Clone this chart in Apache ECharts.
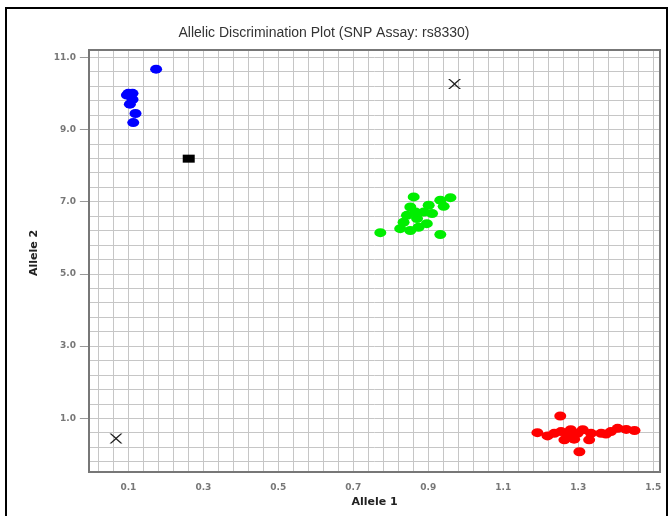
<!DOCTYPE html>
<html>
<head>
<meta charset="utf-8">
<script src="https://cdn.jsdelivr.net/npm/echarts@6/dist/echarts.min.js"></script>
<style>html,body{margin:0;padding:0;background:#fff}#c{width:670px;height:516px}</style>
</head>
<body>
<div id="c"></div>
<script>
// Tick labels
var xLabelValues = [0.1, 0.3, 0.5, 0.7, 0.9, 1.1, 1.3, 1.5];
var yLabelValues = [1.0, 3.0, 5.0, 7.0, 9.0, 11.0];

// Allele 2 homozygotes (blue)
var blueX = [0.174, 0.100, 0.096, 0.111, 0.111, 0.104, 0.119, 0.113];
var blueY = [10.67, 10.00, 9.95, 10.00, 9.83, 9.70, 9.44, 9.19];

// Heterozygotes (green)
var greenX = [0.772, 0.932, 0.861, 0.959, 0.932, 0.941, 0.901, 0.888, 0.852, 0.843, 0.834, 0.825, 0.852, 0.874, 0.896, 0.870, 0.866, 0.910];
var greenY = [6.14, 6.09, 7.13, 7.11, 7.04, 6.87, 6.90, 6.71, 6.85, 6.62, 6.43, 6.25, 6.20, 6.29, 6.39, 6.53, 6.71, 6.67];

// Allele 1 homozygotes (red)
var redX = [1.252, 1.303, 1.191, 1.218, 1.254, 1.272, 1.289, 1.298, 1.329, 1.334, 1.361, 1.387, 1.405, 1.428, 1.450, 1.280, 1.312, 1.236, 1.263, 1.374];
var redY = [1.06, 0.07, 0.60, 0.51, 0.63, 0.49, 0.42, 0.58, 0.40, 0.58, 0.58, 0.63, 0.72, 0.69, 0.66, 0.68, 0.68, 0.58, 0.40, 0.56];

// No template control (black square)
var ntcX = [0.261];
var ntcY = [8.19];

// Undetermined (X)
var undX = [0.970, 0.067];
var undY = [10.26, 0.44];

function zip(a, b) { return a.map(function (v, i) { return [v, b[i]]; }); }

var xMin = -0.005, xMax = 1.518, yMin = -0.49, yMax = 11.2;
// grid line positions (every 0.04 on x, every 0.4 on y)
var xGrid = [], yGrid = [];
for (var i = 0; i <= 37; i++) xGrid.push(+(0.02 + 0.04 * i).toFixed(2));
for (var j = 0; j <= 28; j++) yGrid.push(+(-0.2 + 0.4 * j).toFixed(1));

var gridLines = xGrid.map(function (v) { return { xAxis: v }; })
  .concat(yGrid.map(function (v) { return { yAxis: v }; }));

var xPath = 'path://M0,0 L2,0 L7,4 L12,0 L14,0 L8,5 L14,10 L12,10 L7,6 L2,10 L0,10 L6,5 Z';
var font = 'Liberation Sans, Arial, sans-serif';
var font2 = 'DejaVu Sans, Verdana, sans-serif';

var chart = echarts.init(document.getElementById('c'));
chart.setOption({
  animation: false,
  backgroundColor: '#fff',
  title: {
    text: 'Allelic Discrimination Plot (SNP Assay: rs8330)',
    left: 319, top: 21, textAlign: 'center',
    textStyle: { fontFamily: font, fontSize: 14, fontWeight: 'normal', color: '#333' }
  },
  graphic: [{
    type: 'rect', silent: true,
    shape: { x: 6, y: 8, width: 661, height: 520 },
    style: { fill: 'none', stroke: '#000', lineWidth: 2 }
  }],
  grid: { left: 89, top: 50, right: 10, bottom: 44, show: true, borderColor: '#777', borderWidth: 2, backgroundColor: 'transparent', z: 3 },
  xAxis: {
    type: 'value', min: xMin, max: xMax,
    name: 'Allele 1', nameLocation: 'middle', nameGap: 24,
    nameTextStyle: { fontFamily: font2, fontSize: 11, fontWeight: 'bold', color: '#222' },
    axisLine: { show: false },
    axisTick: { show: true, customValues: xGrid, length: 4, lineStyle: { color: '#bbb' } },
    axisLabel: { customValues: xLabelValues, margin: 11, fontSize: 9, fontWeight: 'bold', color: '#777', fontFamily: font2,
      formatter: function (v) { return v.toFixed(1); } },
    splitLine: { show: false }
  },
  yAxis: {
    type: 'value', min: yMin, max: yMax,
    name: 'Allele 2', nameLocation: 'middle', nameGap: 49, nameRotate: 90,
    nameTextStyle: { fontFamily: font2, fontSize: 11, fontWeight: 'bold', color: '#222', padding: [0, 0, 0, 16] },
    axisLine: { show: false },
    axisTick: { show: true, customValues: yLabelValues, length: 11, lineStyle: { color: '#999' } },
    axisLabel: { customValues: yLabelValues, margin: 13, fontSize: 9, fontWeight: 'bold', color: '#777', fontFamily: font2,
      formatter: function (v) { return v.toFixed(1); } },
    splitLine: { show: false }
  },
  series: [
    { type: 'scatter', name: 'grid', data: [], z: 1, silent: true,
      markLine: { z: 1, silent: true, symbol: ['none', 'none'], label: { show: false },
        lineStyle: { color: '#c6c6c6', width: 1, type: 'solid' }, emphasis: { disabled: true }, animation: false,
        data: gridLines } },
    { type: 'scatter', name: 'Allele 2', z: 10, data: zip(blueX, blueY), symbol: 'circle', symbolSize: [12, 9], itemStyle: { color: '#0000ff', opacity: 1 } },
    { type: 'scatter', name: 'Both', z: 10, data: zip(greenX, greenY), symbol: 'circle', symbolSize: [12, 9], itemStyle: { color: '#00ee00', opacity: 1 } },
    { type: 'scatter', name: 'Allele 1', z: 10, data: zip(redX, redY), symbol: 'circle', symbolSize: [12, 9], itemStyle: { color: '#ff0000', opacity: 1 } },
    { type: 'scatter', name: 'NTC', z: 10, data: zip(ntcX, ntcY), symbol: 'rect', symbolSize: [12, 8], itemStyle: { color: '#000', opacity: 1 } },
    { type: 'scatter', name: 'Undetermined', z: 10, data: zip(undX, undY), symbol: xPath, symbolSize: [13, 10], itemStyle: { color: '#222', opacity: 1 } }
  ]
});
</script>
</body>
</html>
